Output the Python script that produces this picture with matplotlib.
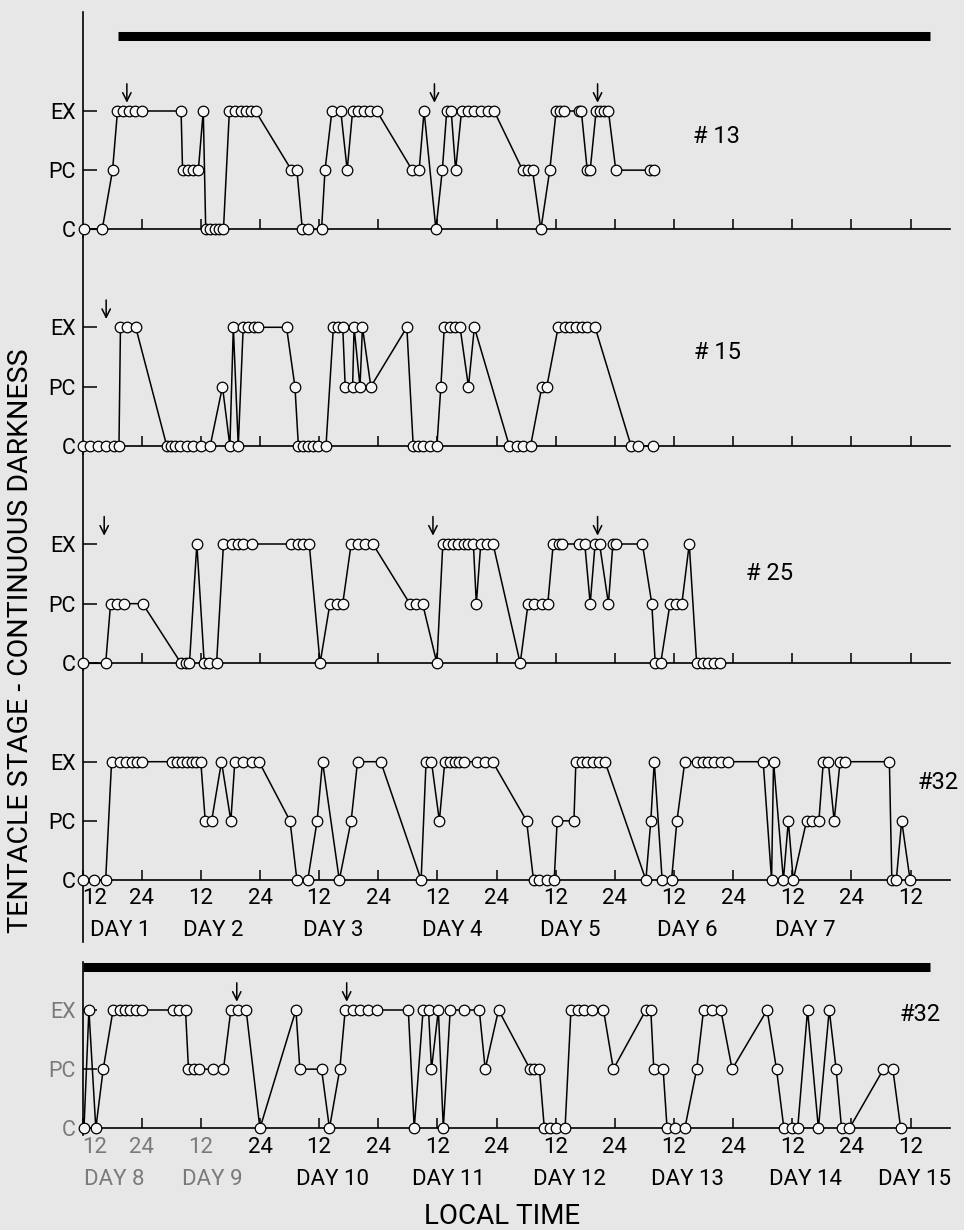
import matplotlib
matplotlib.use("Agg")
import matplotlib.pyplot as plt

plt.rcParams['font.family'] = ['Roboto', 'DejaVu Sans']
plt.rcParams['font.weight'] = 'normal'

# ---------------- data (hours from midnight before day 1 / day 8) ----------------
levels = {'C': 0, 'PC': 1, 'EX': 2}

t13 = [12.3, 16.0, 18.1, 19.1, 20.3, 21.5, 22.7, 24.0, 32.0, 32.3, 33.5, 34.5, 35.5, 36.5,
       37.0, 37.9, 38.9, 39.7, 40.6, 41.8, 42.9, 44.1, 45.2, 46.2, 47.1, 54.4, 55.5, 56.6,
       57.8, 60.5, 61.2, 62.6, 64.4, 65.7, 66.8, 67.9, 69.2, 70.3, 71.7, 78.9, 80.3, 81.3,
       83.7, 85.0, 85.9, 86.8, 87.7, 88.9, 90.3, 91.5, 92.8, 94.2, 95.5, 101.3, 102.3, 103.3,
       105.0, 106.8, 108.1, 108.9, 109.6, 112.7, 113.2, 114.4, 115.0, 116.2, 117.0, 117.8,
       118.7, 120.2, 127.1, 127.9]
s13 = ['C', 'C', 'PC', 'EX', 'EX', 'EX', 'EX', 'EX', 'EX', 'PC', 'PC', 'PC', 'PC', 'EX',
       'C', 'C', 'C', 'C', 'C', 'EX', 'EX', 'EX', 'EX', 'EX', 'EX', 'PC', 'PC', 'C',
       'C', 'C', 'PC', 'EX', 'EX', 'PC', 'EX', 'EX', 'EX', 'EX', 'EX', 'PC', 'PC', 'EX',
       'C', 'PC', 'EX', 'EX', 'PC', 'EX', 'EX', 'EX', 'EX', 'EX', 'EX', 'PC', 'PC', 'PC',
       'C', 'PC', 'EX', 'EX', 'EX', 'EX', 'EX', 'PC', 'PC', 'EX', 'EX', 'EX',
       'EX', 'PC', 'PC', 'PC']

t15 = [12.2, 13.6, 15.2, 16.8, 18.3, 19.4, 19.7, 21.0, 22.8, 29.1, 29.9, 30.8, 31.8, 33.1,
       34.5, 36.0, 37.9, 40.4, 41.9, 42.6, 43.6, 44.6, 45.6, 46.7, 47.7, 53.4, 55.1, 55.8,
       56.8, 57.8, 58.8, 59.8, 61.4, 62.9, 63.9, 64.8, 65.3, 66.8, 67.1, 68.3, 68.8, 70.5,
       77.8, 79.1, 80.1, 81.1, 82.5, 83.9, 84.7, 85.4, 86.6, 87.6, 88.6, 90.3, 91.5, 98.6,
       100.1, 101.4, 102.9, 105.2, 106.2, 108.5, 109.9, 111.0, 112.1, 113.3, 114.4, 116.0,
       123.3, 124.8, 127.8]
s15 = ['C', 'C', 'C', 'C', 'C', 'C', 'EX', 'EX', 'EX', 'C', 'C', 'C', 'C', 'C',
       'C', 'C', 'C', 'PC', 'C', 'EX', 'C', 'EX', 'EX', 'EX', 'EX', 'EX', 'PC', 'C',
       'C', 'C', 'C', 'C', 'C', 'EX', 'EX', 'EX', 'PC', 'PC', 'EX', 'PC', 'EX', 'PC',
       'EX', 'C', 'C', 'C', 'C', 'C', 'PC', 'EX', 'EX', 'EX', 'EX', 'PC', 'EX', 'C',
       'C', 'C', 'C', 'PC', 'PC', 'EX', 'EX', 'EX', 'EX', 'EX', 'EX', 'EX',
       'C', 'C', 'C']

t25 = [12.2, 16.7, 17.7, 19.1, 20.5, 24.2, 32.0, 33.0, 33.7, 35.2, 36.7, 37.7, 39.2, 40.6,
       42.3, 43.6, 44.6, 46.3, 54.4, 55.8, 56.8, 58.0, 60.2, 62.2, 63.6, 64.8, 66.5, 67.9,
       69.3, 70.9, 78.4, 79.7, 81.0, 83.9, 85.1, 86.2, 87.2, 88.2, 89.3, 90.3, 91.3, 91.9,
       92.8, 94.0, 95.3, 100.8, 102.4, 103.7, 105.2, 106.4, 107.5, 108.7, 109.2, 112.7,
       113.9, 115.0, 116.0, 116.9, 118.7, 119.6, 120.2, 125.6, 127.5, 128.2, 129.3, 131.2,
       132.4, 133.6, 135.1, 136.6, 137.8, 139.0, 140.1, 141.3]
s25 = ['C', 'C', 'PC', 'PC', 'PC', 'PC', 'C', 'C', 'C', 'EX', 'C', 'C', 'C', 'EX',
       'EX', 'EX', 'EX', 'EX', 'EX', 'EX', 'EX', 'EX', 'C', 'PC', 'PC', 'PC', 'EX', 'EX',
       'EX', 'EX', 'PC', 'PC', 'PC', 'C', 'EX', 'EX', 'EX', 'EX', 'EX', 'EX', 'EX', 'PC',
       'EX', 'EX', 'EX', 'C', 'PC', 'PC', 'PC', 'PC', 'EX', 'EX', 'EX', 'EX',
       'EX', 'PC', 'EX', 'EX', 'PC', 'EX', 'EX', 'EX', 'PC', 'C', 'C', 'PC',
       'PC', 'PC', 'EX', 'C', 'C', 'C', 'C', 'C']

t32a = [12.2, 14.3, 16.7, 17.9, 19.6, 20.8, 22.0, 23.0, 24.0, 30.1, 31.1, 32.1, 33.1, 34.2,
        35.0, 36.0, 36.9, 38.2, 40.2, 42.1, 42.9, 44.6, 46.3, 47.8, 54.1, 55.5, 57.7, 59.6,
        60.7, 64.1, 66.5, 67.8, 72.5, 80.7, 81.7, 82.8, 84.4, 85.5, 86.6, 87.6, 88.4, 89.5,
        92.0, 93.7, 95.2, 102.1, 103.5, 104.7, 106.2, 107.7, 108.3, 111.7, 112.1, 113.3,
        114.4, 115.6, 116.8, 118.0, 126.3, 127.3, 128.0, 129.6, 131.5, 132.6, 134.2, 136.6,
        137.8, 139.0, 140.2, 141.5, 143.0, 150.1, 151.8, 152.2, 154.2, 155.2, 156.2, 158.9,
        160.1, 161.4, 162.3, 163.3, 164.5, 165.7, 166.7, 175.7, 176.2, 177.1, 178.2, 179.9]
s32a = ['C', 'C', 'C', 'EX', 'EX', 'EX', 'EX', 'EX', 'EX', 'EX', 'EX', 'EX', 'EX', 'EX',
        'EX', 'EX', 'PC', 'PC', 'EX', 'PC', 'EX', 'EX', 'EX', 'EX', 'PC', 'C', 'C', 'PC',
        'EX', 'C', 'PC', 'EX', 'EX', 'C', 'EX', 'EX', 'PC', 'EX', 'EX', 'EX', 'EX', 'EX',
        'EX', 'EX', 'EX', 'PC', 'C', 'C', 'C', 'C', 'PC', 'PC', 'EX', 'EX',
        'EX', 'EX', 'EX', 'EX', 'C', 'PC', 'EX', 'C', 'C', 'PC', 'EX', 'EX',
        'EX', 'EX', 'EX', 'EX', 'EX', 'EX', 'C', 'EX', 'C', 'PC', 'C', 'PC',
        'PC', 'PC', 'EX', 'EX', 'PC', 'EX', 'EX', 'EX', 'C', 'C', 'PC', 'C']

t32b = [12.3, 13.3, 14.7, 16.2, 18.2, 19.6, 20.6, 21.6, 22.8, 24.0, 30.4, 31.6, 32.9, 33.5,
        34.6, 35.7, 38.4, 40.6, 42.1, 43.6, 45.2, 48.0, 55.3, 56.1, 60.5, 62.1, 64.2, 65.3,
        66.8, 68.2, 69.9, 71.8, 78.1, 79.3, 81.1, 82.2, 82.8, 84.2, 85.2, 86.6, 89.3, 92.5,
        93.7, 96.4, 102.8, 103.7, 104.7, 105.7, 106.8, 108.1, 109.9, 111.1, 112.5, 113.8,
        115.3, 117.7, 119.7, 126.3, 127.3, 127.9, 129.8, 130.6, 132.3, 134.2, 136.6, 138.0,
        139.8, 141.5, 143.8, 150.9, 152.8, 154.3, 155.9, 157.1, 159.1, 161.3, 163.5, 164.9,
        166.0, 167.6, 174.5, 176.4, 178.0]
s32b = ['C', 'EX', 'C', 'PC', 'EX', 'EX', 'EX', 'EX', 'EX', 'EX', 'EX', 'EX', 'EX', 'PC',
        'PC', 'PC', 'PC', 'PC', 'EX', 'EX', 'EX', 'C', 'EX', 'PC', 'PC', 'C', 'PC', 'EX',
        'EX', 'EX', 'EX', 'EX', 'EX', 'C', 'EX', 'EX', 'PC', 'EX', 'C', 'EX', 'EX', 'EX',
        'PC', 'EX', 'PC', 'PC', 'PC', 'C', 'C', 'C', 'C', 'EX', 'EX', 'EX',
        'EX', 'EX', 'PC', 'EX', 'EX', 'PC', 'PC', 'C', 'C', 'C', 'PC', 'EX',
        'EX', 'EX', 'PC', 'EX', 'PC', 'C', 'C', 'C', 'EX', 'C', 'EX', 'PC',
        'C', 'C', 'PC', 'PC', 'C']

arrows13 = [21.0, 83.4, 116.5]
arrows15 = [16.8]
arrows25 = [16.4, 83.1, 116.5]
arrows32b = [43.3, 65.6]

stage_ticks = [0, 1, 2]
stage_labels = ['C', 'PC', 'EX']
hour_ticks = [12, 24, 36, 48, 60, 72, 84, 96, 108, 120, 132, 144, 156, 168, 180]
hour_labels = ['12', '24', '12', '24', '12', '24', '12', '24', '12', '24', '12', '24', '12', '24', '12']
days_top = ['DAY 1', 'DAY 2', 'DAY 3', 'DAY 4', 'DAY 5', 'DAY 6', 'DAY 7']
days_top_x = [19.6, 38.5, 62.8, 87.0, 110.9, 134.8, 158.7]
days_bot = ['DAY 8', 'DAY 9', 'DAY 10', 'DAY 11', 'DAY 12', 'DAY 13', 'DAY 14', 'DAY 15']
days_bot_x = [18.4, 38.3, 62.8, 86.2, 110.9, 134.8, 158.7, 180.7]
dark_top = (19.2, 184.0)
dark_bot = (12.0, 184.0)

# ---------------- figure ----------------
W, H = 964, 1230
BG = '#e7e7e7'
fig = plt.figure(figsize=(W / 100, H / 100), dpi=100, facecolor=BG)
XL, XR = 82.5, 950.0
FS_TICK = 16
FS_DAY = 16


def make_ax(top, bottom, c_px, ex_px):
    unit = (c_px - ex_px) / 2.0
    ax = fig.add_axes([XL / W, 1 - bottom / H, (XR - XL) / W, (bottom - top) / H])
    ax.set_facecolor('none')
    ax.set_xlim(12, 188)
    ax.set_ylim(-(bottom - c_px) / unit, (c_px - top) / unit)
    for s in ('top', 'right'):
        ax.spines[s].set_visible(False)
    ax.spines['bottom'].set_position(('data', 0))
    ax.spines['left'].set_linewidth(1.2)
    ax.spines['bottom'].set_linewidth(1.2)
    ax.set_yticks(stage_ticks)
    ax.set_yticklabels(stage_labels)
    ax.tick_params(axis='y', direction='in', length=10, width=1.1, pad=5, labelsize=15.5)
    ax.tick_params(axis='x', direction='in', length=7, width=1.1, pad=6, labelsize=FS_TICK)
    return ax


def draw(ax, t, s):
    y = [levels[v] for v in s]
    ax.plot(t, y, '-o', color='black', lw=1.1, ms=7.6, mfc='#f6f6f6', mec='black',
            mew=0.9, clip_on=False, zorder=3)


def arrows(ax, xs):
    for x in xs:
        ax.annotate('', xy=(x, 2.14), xytext=(x, 2.46),
                    arrowprops=dict(arrowstyle='->', lw=1.1, color='black',
                                    mutation_scale=15, shrinkA=0, shrinkB=0))


ax1 = make_ax(12, 237, 229.3, 111)
ax2 = make_ax(237, 453.5, 446, 327.3)
ax3 = make_ax(453.5, 670, 663.3, 544)
ax4 = make_ax(670, 942, 880, 761.7)
ax5 = make_ax(962, 1135, 1128.3, 1010)

for ax in (ax1, ax2, ax3):
    ax.set_xticks(hour_ticks[1:])
    ax.set_xticklabels([])

for ax in (ax4, ax5):
    ax.set_xticks(hour_ticks)
    ax.set_xticklabels(hour_labels)
    ax.get_xticklabels()[0].set_ha('left')

draw(ax1, t13, s13)
draw(ax2, t15, s15)
draw(ax3, t25, s25)
draw(ax4, t32a, s32a)
draw(ax5, t32b, s32b)

arrows(ax1, arrows13)
arrows(ax2, arrows15)
arrows(ax3, arrows25)
arrows(ax5, arrows32b)

FS_ID = 17
ax1.text(140.7, 1.57, '# 13', fontsize=FS_ID, ha='center', va='center')
ax2.text(140.9, 1.57, '# 15', fontsize=FS_ID, ha='center', va='center')
ax3.text(151.3, 1.51, '# 25', fontsize=FS_ID, ha='center', va='center')
ax4.text(185.6, 1.64, '#32', fontsize=FS_ID, ha='center', va='center', clip_on=False)
ax5.text(181.9, 1.93, '#32', fontsize=FS_ID, ha='center', va='center')

# darkness bars
ax1.plot(dark_top, [3.26, 3.26], color='black', lw=6.5, solid_capstyle='butt', clip_on=False)
ax5.plot(dark_bot, [2.72, 2.72], color='black', lw=6.5, solid_capstyle='butt', clip_on=False)

for x, lab in zip(days_top_x, days_top):
    ax4.text(x, -0.86, lab, fontsize=FS_DAY, ha='center', va='center', clip_on=False)
for x, lab in zip(days_bot_x, days_bot):
    ax5.text(x, -0.874, lab, fontsize=FS_DAY, ha='center', va='center', clip_on=False)

# faded print on the lower-left labels
GRAY = '#7a7a7a'
for lab in ax5.get_xticklabels()[:3]:
    lab.set_color(GRAY)
for lab in ax5.get_yticklabels():
    lab.set_color(GRAY)
for txt in ax5.texts:
    if txt.get_text() in ('DAY 8', 'DAY 9'):
        txt.set_color(GRAY)

fig.text(502 / W, 1 - 1217 / H, 'LOCAL TIME', fontsize=20, ha='center', va='center')
fig.text(21 / W, 1 - 641 / H, 'TENTACLE STAGE - CONTINUOUS DARKNESS', fontsize=20.5,
         rotation=90, ha='center', va='center')

fig.savefig('out.png', dpi=100, facecolor=BG)
